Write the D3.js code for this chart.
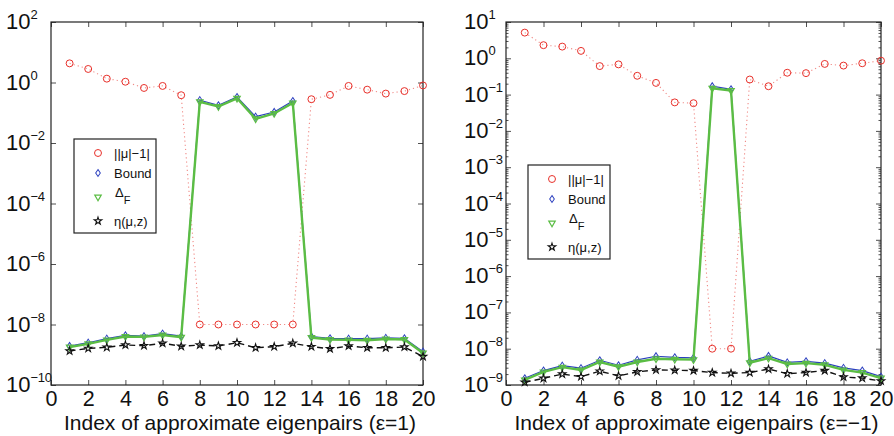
<!DOCTYPE html>
<html>
<head>
<meta charset="utf-8">
<script src="https://cdn.jsdelivr.net/npm/d3@7"></script>
<style>
  body { margin: 0; background: #fff; }
  svg { font-family: "Liberation Sans", Arial, sans-serif; }
</style>
</head>
<body>
<svg width="894" height="436"></svg>
<script>
const index = [1, 2, 3, 4, 5, 6, 7, 8, 9, 10, 11, 12, 13, 14, 15, 16, 17, 18, 19, 20];
const xTicks = [0, 2, 4, 6, 8, 10, 12, 14, 16, 18, 20];

// eps = 1
const muLeft = [4.3, 2.8, 1.34, 1.06, 0.66, 0.77, 0.38, 1e-8, 1e-8, 1e-8, 1e-8, 1e-8, 1e-8, 0.28, 0.39, 0.77, 0.58, 0.43, 0.52, 0.8];
const boundLeft = [1.95e-9, 2.5e-9, 3.4e-9, 4.4e-9, 4.1e-9, 5e-9, 4.1e-9, 0.26, 0.176, 0.33, 0.074, 0.106, 0.244, 4e-9, 3.5e-9, 3.4e-9, 3.4e-9, 3.6e-9, 3.5e-9, 1.26e-9];
const deltaLeft = [1.8e-9, 2.3e-9, 3.1e-9, 4e-9, 3.9e-9, 4.5e-9, 3.8e-9, 0.23, 0.16, 0.3, 0.063, 0.095, 0.21, 3.7e-9, 3.2e-9, 3.1e-9, 3e-9, 3.3e-9, 3.2e-9, 1.15e-9];
const etaLeft = [1.33e-9, 1.62e-9, 1.76e-9, 2.1e-9, 2e-9, 2.4e-9, 1.9e-9, 2.1e-9, 1.95e-9, 2.5e-9, 1.7e-9, 1.85e-9, 2.4e-9, 1.85e-9, 1.58e-9, 1.95e-9, 1.7e-9, 1.7e-9, 1.8e-9, 0.87e-9];
const yExpLeft = [2, 0, -2, -4, -6, -8, -10];

// eps = -1
const muRight = [5.1, 2.3, 2.1, 1.6, 0.61, 0.68, 0.33, 0.21, 0.061, 0.058, 1e-8, 1e-8, 0.26, 0.17, 0.40, 0.39, 0.70, 0.63, 0.73, 0.86];
const boundRight = [1.53e-9, 2.5e-9, 3.4e-9, 2.9e-9, 4.8e-9, 3.5e-9, 4.9e-9, 6.2e-9, 5.8e-9, 5.6e-9, 0.17, 0.14, 4.5e-9, 6.3e-9, 4.2e-9, 4.5e-9, 4e-9, 2.95e-9, 2.5e-9, 1.7e-9];
const deltaRight = [1.38e-9, 2.3e-9, 3.1e-9, 2.6e-9, 4.3e-9, 3.2e-9, 4.3e-9, 5.3e-9, 5.1e-9, 5e-9, 0.15, 0.13, 4.1e-9, 5.5e-9, 3.8e-9, 4e-9, 3.6e-9, 2.6e-9, 2.2e-9, 1.55e-9];
const etaRight = [1.19e-9, 1.53e-9, 2e-9, 1.7e-9, 2.4e-9, 1.78e-9, 2.3e-9, 2.6e-9, 2.55e-9, 2.5e-9, 2.2e-9, 2.1e-9, 2.2e-9, 2.75e-9, 2.05e-9, 2.2e-9, 2.5e-9, 1.66e-9, 1.55e-9, 1.29e-9];
const yExpRight = [1, 0, -1, -2, -3, -4, -5, -6, -7, -8, -9];

const svg = d3.select("svg");

const panels = [
  { left: 51, right: 423, top: 22, bottom: 385, domain: [1e-10, 1e2], exps: yExpLeft, minor: false, labelX: 6,
    mu: muLeft, bound: boundLeft, delta: deltaLeft, eta: etaLeft, title: "Index of approximate eigenpairs (ε=1)",
    legend: [74, 139] },
  { left: 506, right: 881, top: 22, bottom: 385, domain: [1e-9, 1e1], exps: yExpRight, minor: true, labelX: 464,
    mu: muRight, bound: boundRight, delta: deltaRight, eta: etaRight, title: "Index of approximate eigenpairs (ε=−1)",
    legend: [528, 165] },
];

const red = "#e8302a", blue = "#2b3fbf", green = "#5bbd44";
const sym = {
  circle: d3.symbol().type(d3.symbolCircle).size(38),
  diamond: d3.symbol().type(d3.symbolDiamond2).size(22),
  tri: d3.symbol().type(d3.symbolTriangle2).size(30),
  star: d3.symbol().type(d3.symbolStar).size(17),
};

panels.forEach((p) => {
  const x = d3.scaleLinear().domain([0, 20]).range([p.left, p.right]);
  const y = d3.scaleLog().domain(p.domain).range([p.bottom, p.top]);
  const g = svg.append("g");
  const major = p.exps.map((e) => Math.pow(10, e));

  // ticks
  g.append("g").attr("transform", `translate(0,${p.bottom})`)
    .call(d3.axisBottom(x).tickValues(xTicks).tickSize(-5).tickPadding(6).tickFormat(d3.format("d")))
    .call((a) => a.select(".domain").remove())
    .call((a) => a.selectAll("text").attr("font-size", 21.5).attr("fill", "#111").attr("font-family", null));
  g.append("g").attr("transform", `translate(0,${p.top})`)
    .call(d3.axisTop(x).tickValues(xTicks).tickSize(-5).tickFormat(""))
    .call((a) => a.select(".domain").remove());
  g.append("g").attr("transform", `translate(${p.left},0)`)
    .call(d3.axisLeft(y).tickValues(major).tickSize(-5).tickFormat(""))
    .call((a) => a.select(".domain").remove());
  g.append("g").attr("transform", `translate(${p.right},0)`)
    .call(d3.axisRight(y).tickValues(major).tickSize(-5).tickFormat(""))
    .call((a) => a.select(".domain").remove());

  if (p.minor) {
    const minor = [];
    p.exps.slice(1).forEach((e) => {
      for (let k = 2; k <= 9; k++) minor.push(k * Math.pow(10, e));
    });
    g.append("g").attr("transform", `translate(${p.left},0)`)
      .call(d3.axisLeft(y).tickValues(minor).tickSize(-2.5).tickFormat(""))
      .call((a) => a.select(".domain").remove());
    g.append("g").attr("transform", `translate(${p.right},0)`)
      .call(d3.axisRight(y).tickValues(minor).tickSize(-2.5).tickFormat(""))
      .call((a) => a.select(".domain").remove());
  }
  g.selectAll(".tick line").attr("stroke", "#222").attr("stroke-width", 0.8);

  // y labels 10^e
  const lab = g.append("g").selectAll("text").data(p.exps).join("text")
    .attr("x", p.labelX)
    .attr("y", (e) => y(Math.pow(10, e)) + 7)
    .attr("font-size", 22)
    .attr("fill", "#111");
  lab.append("tspan").text("10");
  lab.append("tspan").attr("dy", -10).attr("font-size", 13).attr("letter-spacing", -0.3)
    .text((e) => (e < 0 ? "−" + -e : String(e)));

  // box
  g.append("rect")
    .attr("x", p.left).attr("y", p.top)
    .attr("width", p.right - p.left).attr("height", p.bottom - p.top)
    .attr("fill", "none").attr("stroke", "#222").attr("stroke-width", 1.2);

  g.append("text")
    .attr("x", (p.left + p.right) / 2 + 3).attr("y", 430)
    .attr("text-anchor", "middle").attr("font-size", 21).attr("fill", "#111")
    .text(p.title);

  const line = (vals) => d3.line().x((d, i) => x(index[i])).y((d) => y(d))(vals);

  // ||mu|-1|
  g.append("path").attr("d", line(p.mu)).attr("fill", "none")
    .attr("stroke", "#f08a86").attr("stroke-width", 1.1).attr("stroke-dasharray", "1.2,3");
  g.append("g").selectAll("path").data(p.mu).join("path")
    .attr("transform", (d, i) => `translate(${x(index[i])},${y(d)})`)
    .attr("d", sym.circle).attr("fill", "none").attr("stroke", red).attr("stroke-width", 1);

  // Bound
  g.append("path").attr("d", line(p.bound)).attr("fill", "none")
    .attr("stroke", blue).attr("stroke-width", 1.2);
  g.append("g").selectAll("path").data(p.bound).join("path")
    .attr("transform", (d, i) => `translate(${x(index[i])},${y(d)}) scale(0.8,1.2)`)
    .attr("d", sym.diamond).attr("fill", "none").attr("stroke", blue).attr("stroke-width", 1);

  // Delta_F
  g.append("path").attr("d", line(p.delta)).attr("fill", "none")
    .attr("stroke", green).attr("stroke-width", 2.4);
  g.append("g").selectAll("path").data(p.delta).join("path")
    .attr("transform", (d, i) => `translate(${x(index[i])},${y(d)}) rotate(180)`)
    .attr("d", sym.tri).attr("fill", "none").attr("stroke", green).attr("stroke-width", 1.2);

  // eta
  g.append("path").attr("d", line(p.eta)).attr("fill", "none")
    .attr("stroke", "#111").attr("stroke-width", 1.4).attr("stroke-dasharray", "6,4");
  g.append("g").selectAll("path").data(p.eta).join("path")
    .attr("transform", (d, i) => `translate(${x(index[i])},${y(d)})`)
    .attr("d", sym.star).attr("fill", "none").attr("stroke", "#111").attr("stroke-width", 1.1);

  // legend
  const [lx, ly] = p.legend;
  const leg = g.append("g").attr("transform", `translate(${lx},${ly})`);
  leg.append("rect").attr("width", 82).attr("height", 94)
    .attr("fill", "#fff").attr("stroke", "#222").attr("stroke-width", 1.2);
  const rows = [14, 34, 58, 82];
  leg.append("path").attr("transform", `translate(24,${rows[0]})`).attr("d", sym.circle)
    .attr("fill", "none").attr("stroke", red);
  leg.append("path").attr("transform", `translate(24,${rows[1]}) scale(0.8,1.2)`).attr("d", sym.diamond)
    .attr("fill", "none").attr("stroke", blue);
  leg.append("path").attr("transform", `translate(24,${rows[2]}) rotate(180)`).attr("d", sym.tri)
    .attr("fill", "none").attr("stroke", green).attr("stroke-width", 1.2);
  leg.append("path").attr("transform", `translate(24,${rows[3]})`).attr("d", sym.star)
    .attr("fill", "none").attr("stroke", "#111").attr("stroke-width", 1.1);
  const tx = 40;
  leg.append("text").attr("x", tx).attr("y", rows[0] + 4.5).attr("font-size", 13).attr("fill", "#111").text("||μ|−1|");
  leg.append("text").attr("x", tx).attr("y", rows[1] + 4.5).attr("font-size", 13).attr("fill", "#111").text("Bound");
  const dt = leg.append("text").attr("x", tx + 1).attr("y", rows[2]).attr("font-size", 13).attr("fill", "#111");
  dt.append("tspan").text("Δ");
  dt.append("tspan").attr("dy", 7).attr("font-size", 11).text("F");
  leg.append("text").attr("x", tx).attr("y", rows[3] + 4.5).attr("font-size", 13).attr("fill", "#111").text("η(μ,z)");
});
</script>
</body>
</html>
